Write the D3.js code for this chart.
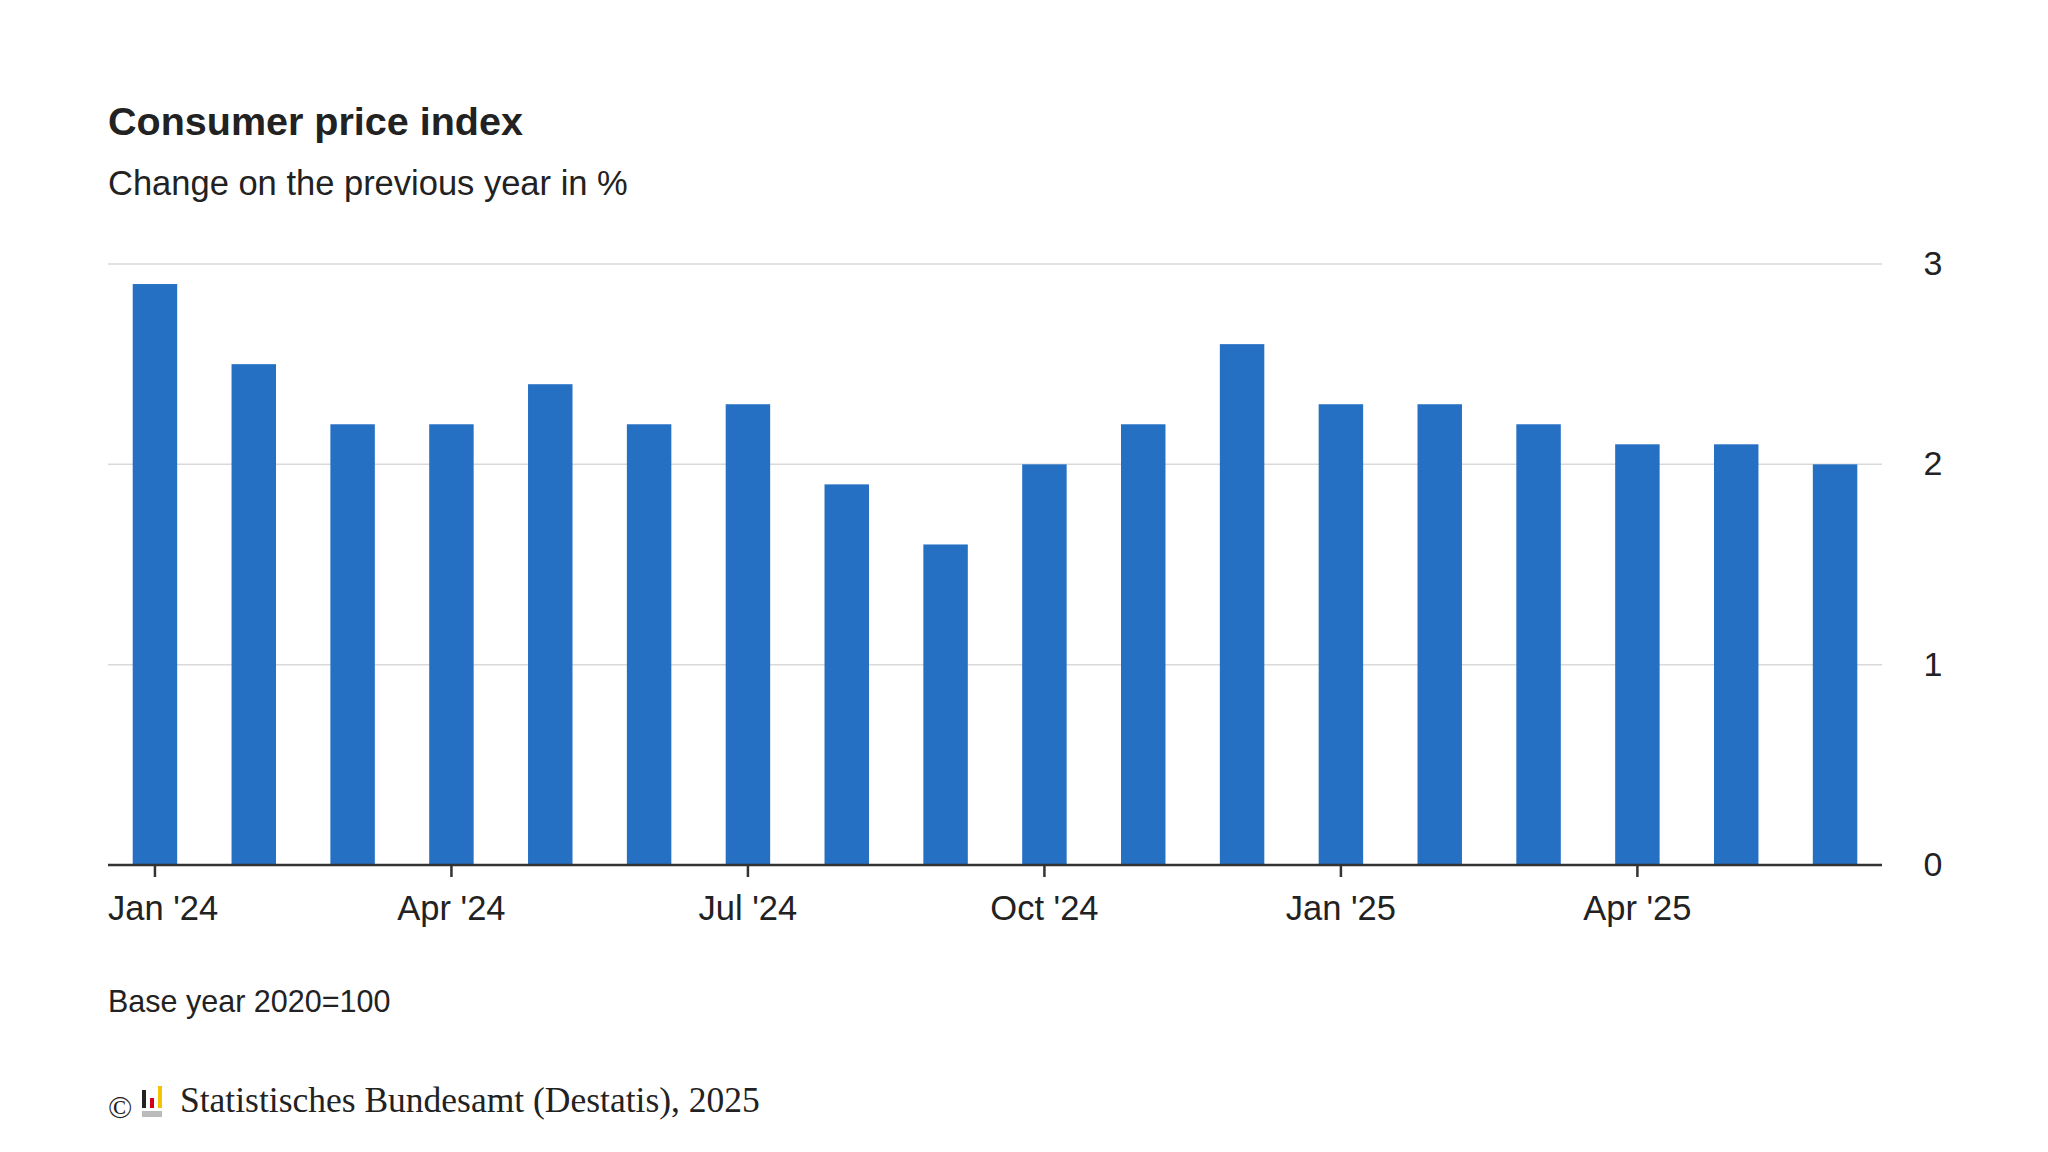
<!DOCTYPE html>
<html>
<head>
<meta charset="utf-8">
<script src="https://cdn.jsdelivr.net/npm/d3@7"></script>
<style>
  body { margin: 0; background: #fff; }
  text { font-family: "Liberation Sans", Arial, sans-serif; fill: #222; }
</style>
</head>
<body>
<svg id="chart" width="2048" height="1152"></svg>
<script>
// months Jan 2024 .. Jun 2025
var months = ["Jan '24","Feb '24","Mar '24","Apr '24","May '24","Jun '24","Jul '24","Aug '24","Sep '24","Oct '24","Nov '24","Dec '24",
  "Jan '25","Feb '25","Mar '25","Apr '25","May '25","Jun '25"];
var values = [2.9, 2.5, 2.2, 2.2, 2.4, 2.2, 2.3, 1.9, 1.6, 2.0, 2.2, 2.6, 2.3, 2.3, 2.2, 2.1, 2.1, 2.0];
var tickMonths = ["Jan '24","Apr '24","Jul '24","Oct '24","Jan '25","Apr '25"];
var yTicks = [0, 1, 2, 3];

var svg = d3.select('#chart');
var plotLeft = 108, plotRight = 1882, plotTop = 264, plotBottom = 865;

var x = d3.scaleBand().domain(months).range([plotLeft, plotRight]).paddingInner(0.55).paddingOuter(0.25);
var y = d3.scaleLinear().domain([0, 3]).range([plotBottom, plotTop]);

svg.append('text').attr('x', plotLeft).attr('y', 135)
  .style('font-size', '39.5px').style('font-weight', 'bold').text('Consumer price index');
svg.append('text').attr('x', plotLeft).attr('y', 195)
  .style('font-size', '34.5px').text('Change on the previous year in %');

// gridlines
svg.selectAll('.grid').data(yTicks.filter(function(d) { return d > 0; })).enter()
  .append('line')
  .attr('x1', plotLeft).attr('x2', plotRight)
  .attr('y1', function(d) { return y(d); }).attr('y2', function(d) { return y(d); })
  .attr('stroke', '#d9d9d9').attr('stroke-width', 1.5);

svg.selectAll('.ylab').data(yTicks).enter()
  .append('text')
  .attr('x', 1933).attr('y', function(d) { return y(d) + 11; })
  .attr('text-anchor', 'middle')
  .style('font-size', '34px').text(function(d) { return d; });

svg.selectAll('.bar').data(values).enter()
  .append('rect')
  .attr('x', function(d, i) { return x(months[i]); })
  .attr('width', x.bandwidth())
  .attr('y', function(d) { return y(d); })
  .attr('height', function(d) { return y(0) - y(d); })
  .style('fill', '#2670c4');

svg.append('line').attr('x1', plotLeft).attr('x2', plotRight).attr('y1', plotBottom).attr('y2', plotBottom)
  .attr('stroke', '#333').attr('stroke-width', 2.5);

var ticks = svg.selectAll('.xt').data(tickMonths).enter().append('g');
ticks.append('line')
  .attr('x1', function(d) { return x(d) + x.bandwidth() / 2; })
  .attr('x2', function(d) { return x(d) + x.bandwidth() / 2; })
  .attr('y1', plotBottom).attr('y2', plotBottom + 12)
  .attr('stroke', '#333').attr('stroke-width', 2.5);
ticks.append('text')
  .attr('x', function(d, i) { return i === 0 ? plotLeft : x(d) + x.bandwidth() / 2; })
  .attr('y', 920)
  .attr('text-anchor', function(d, i) { return i === 0 ? 'start' : 'middle'; })
  .style('font-size', '34.5px').text(function(d) { return d; });

svg.append('text').attr('x', plotLeft).attr('y', 1012)
  .style('font-size', '30.5px').text('Base year 2020=100');

// footer with small logo
var fy = 1112;
svg.append('text').attr('x', plotLeft).attr('y', fy + 6)
  .style('font-family', '"Liberation Serif", serif').style('font-size', '32px').text('©');
var logoX = plotLeft + 34;
svg.append('rect').attr('x', logoX).attr('y', fy - 22).attr('width', 4).attr('height', 18).style('fill', '#222');
svg.append('rect').attr('x', logoX + 8).attr('y', fy - 14).attr('width', 4).attr('height', 10).style('fill', '#d0021b');
svg.append('rect').attr('x', logoX + 16).attr('y', fy - 26).attr('width', 4).attr('height', 22).style('fill', '#f5c400');
svg.append('rect').attr('x', logoX).attr('y', fy - 1).attr('width', 20).attr('height', 6).style('fill', '#bbb');
svg.append('text').attr('x', logoX + 38).attr('y', fy)
  .style('font-family', '"Liberation Serif", serif').style('font-size', '35.5px')
  .text('Statistisches Bundesamt (Destatis), 2025');
</script>
</body>
</html>
